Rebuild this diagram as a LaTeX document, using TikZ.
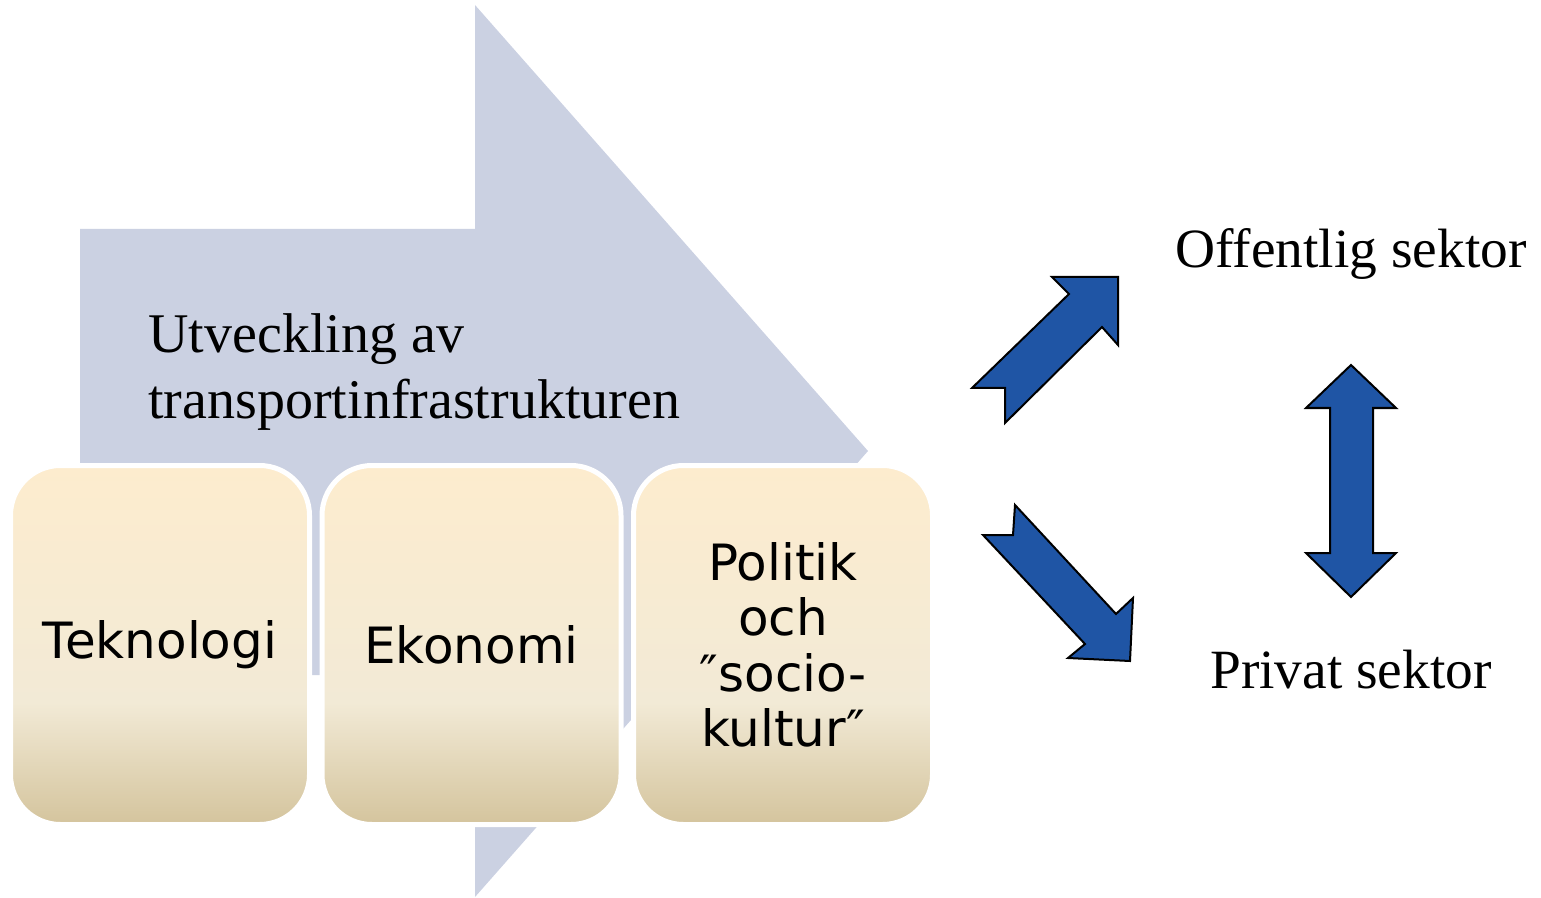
\documentclass[tikz,border=0pt]{standalone}
\usepackage{fontspec}
\setmainfont{Liberation Serif}
\newfontfamily\boxfont{DejaVu Sans}
\definecolor{arrowgray}{HTML}{CBD1E2}
\definecolor{sectorblue}{HTML}{1F55A5}
\definecolor{creamtop}{HTML}{FDECCE}
\definecolor{creammid}{HTML}{F2EAD6}
\definecolor{tanbottom}{HTML}{D4C49D}
\pgfdeclareverticalshading{boxshade}{100bp}{color(0bp)=(tanbottom); color(25bp)=(tanbottom); color(42bp)=(creammid); color(75bp)=(creamtop); color(100bp)=(creamtop)}
\begin{document}
\begin{tikzpicture}
[x=0.5pt,y=-0.5pt,
  boxdecorate/.style={shape=rectangle,rounded corners=25pt,minimum width=149.5pt,minimum height=179.5pt,%
    draw=white,line width=2.5pt,shading=boxshade,inner sep=0pt,align=center,font=\boxfont\fontsize{25}{27.75}\selectfont},%
  sectordecorate/.style={fill=sectorblue,draw=black,line width=1pt,line join=miter},%
  textdecorate/.style={inner sep=0pt,font=\fontsize{27.7}{32.5}\selectfont}]
\useasboundingbox (0,0) rectangle (1541,898);
%% big background arrow
\fill[arrowgray] (80,229) -- (475,229) -- (475,5) -- (868,451) -- (475,897) -- (475,675) -- (80,675) -- cycle;
\node (dev) at (148,418) [textdecorate,anchor=base west,align=left,font=\fontsize{28}{32.5}\selectfont] {Utveckling av\\transportinfrastrukturen};
%% nodes or boxes
\foreach \nodename/\x/\nodetext in {tek/160/Teknologi, eko/471.5/Ekonomi, pol/783/{Politik\\och\\″socio-\\kultur″}} {
  \node (\nodename) at (\x,645) [boxdecorate] {\nodetext};
}
%% sectors
\node (pub) at (1351,268) [textdecorate,anchor=base] {Offentlig sektor};
\node (priv) at (1351,688) [textdecorate,anchor=base] {Privat sektor};
%% block arrows
\draw[sectordecorate] (972,388) -- (1069,294) -- (1052,277) -- (1118,277) -- (1118,345) -- (1102,327) -- (1005,423) -- (1005,388) -- cycle;
\draw[sectordecorate] (1015,505) -- (1116,614) -- (1133,598) -- (1130,661) -- (1068,658) -- (1085,644) -- (983,535) -- (1013,535) -- cycle;
\draw[sectordecorate] (1351,365) -- (1396,408) -- (1373,408) -- (1373,553) -- (1396,553) -- (1351,597) -- (1306,553) -- (1330,553) -- (1330,408) -- (1306,408) -- cycle;
\end{tikzpicture}
\end{document}
